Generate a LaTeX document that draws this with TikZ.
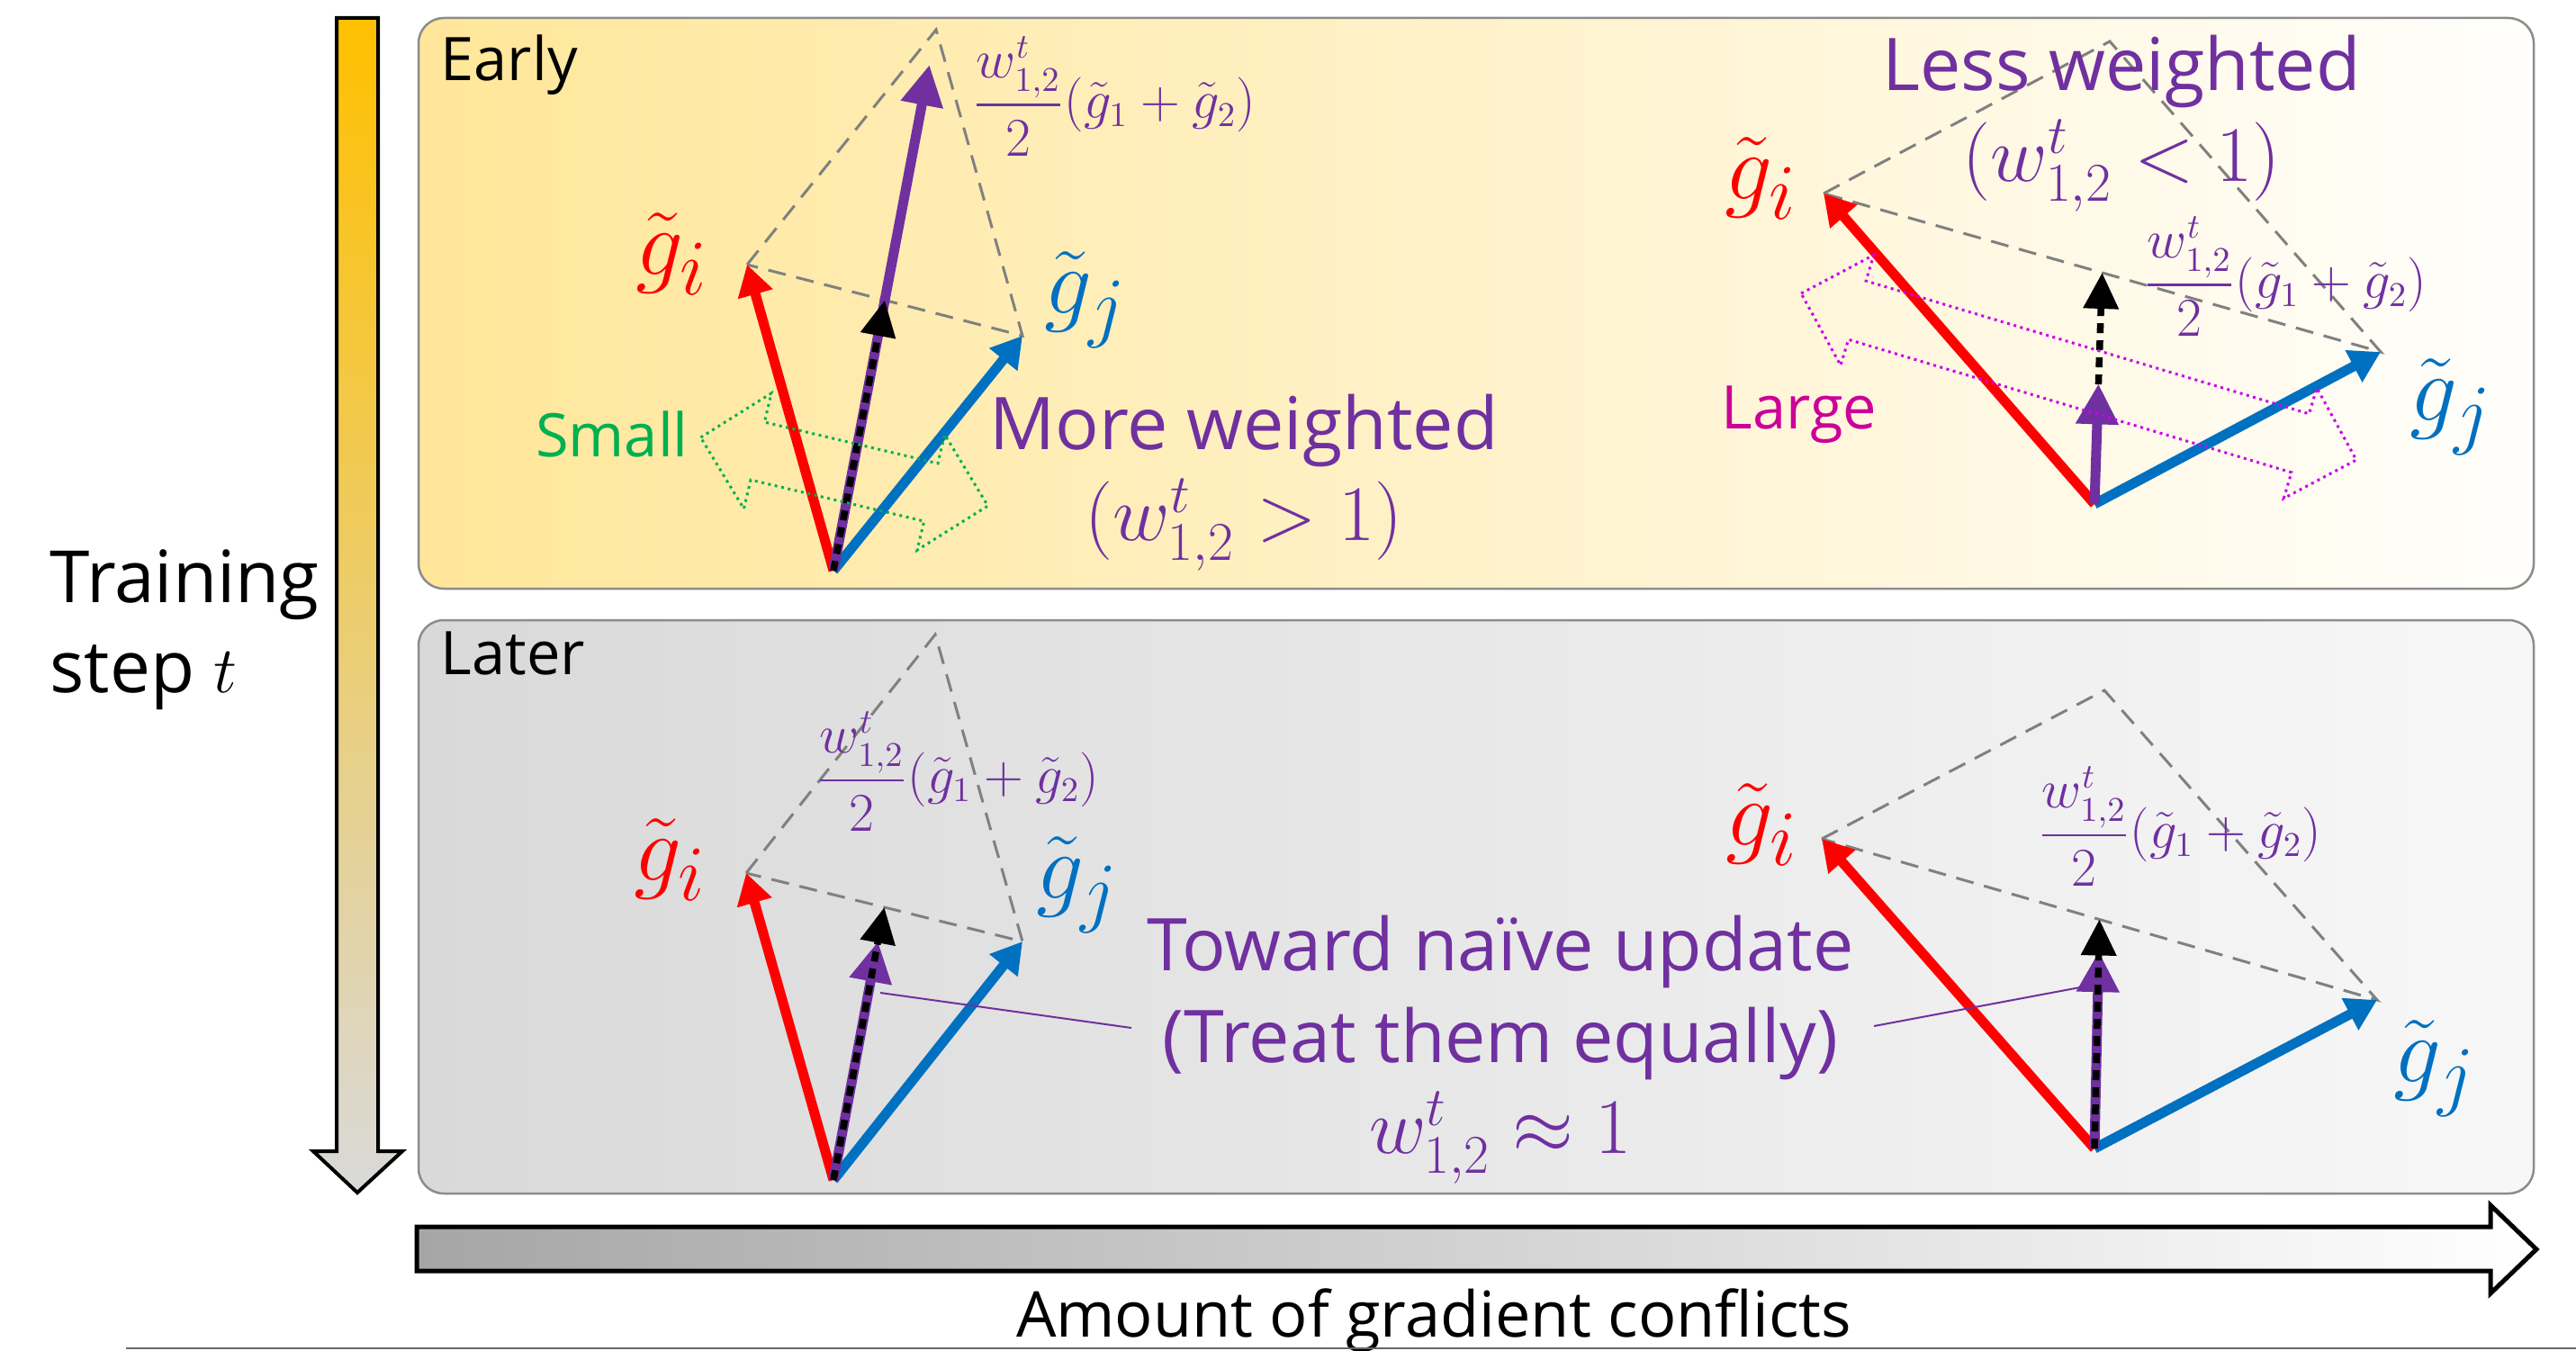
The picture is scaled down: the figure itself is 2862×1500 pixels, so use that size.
\documentclass[tikz,border=0pt]{standalone}
\usepackage{amsmath,amssymb}
\usepackage[no-math]{fontspec}
\setmainfont{Open Sans}
\usetikzlibrary{arrows.meta,calc}
\definecolor{cred}{HTML}{FF0000}
\definecolor{cblue}{HTML}{0070C0}
\definecolor{cpurple}{HTML}{7030A0}
\definecolor{cgreen}{HTML}{00B050}
\definecolor{cmagenta}{HTML}{CC0099}
\definecolor{cdots}{HTML}{CC00EE}
\definecolor{corange}{HTML}{FFC000}
\definecolor{cyellow}{HTML}{FFE699}
\definecolor{cgrey}{HTML}{D9D9D9}
\tikzset{
  panel/.style={draw=black!45, line width=0.25mm, rounded corners=2.8mm},
  guide/.style={draw=black!50, line width=0.3mm, dash pattern=on 2mm off 1.2mm},
  gvec/.style={line width=1.1mm, -{Triangle[length=3.4mm,width=3.8mm]}},
  wvec/.style={cpurple, line width=1.1mm, -{Triangle[length=4.5mm,width=4.5mm]}},
  avg/.style={black, line width=0.75mm, dash pattern=on 1.1mm off 0.8mm, -{Triangle[length=4mm,width=3.8mm]}},
  glbl/.style={font=\fontsize{24.88}{30}\selectfont, inner sep=0},
  frm/.style={font=\fontsize{16}{19}\selectfont, text=cpurple, inner sep=0, anchor=west},
  note/.style={font=\fontsize{23}{29}\selectfont, text=cpurple, align=center, inner sep=0},
  tag/.style={font=\fontsize{19}{23}\selectfont, inner sep=0},
  spread/.style={line width=0.3mm, dash pattern=on 0.3mm off 0.45mm},
  pointer/.style={cpurple, line width=0.2mm},
}

\begin{document}
\begin{tikzpicture}[x=0.1mm, y=-0.1mm]
  \useasboundingbox (0,0) rectangle (2862,1500);

  % axes
  \draw[line width=0.4mm, top color=corange, bottom color=cgrey]
    (374,20) -- (420,20) -- (420,1279) -- (447,1279) -- (397,1325) -- (348,1279) -- (374,1279) -- cycle;
  \draw[line width=0.5mm, left color=black!35, right color=white]
    (463,1363) -- (2767,1363) -- (2767,1339) -- (2818,1388) -- (2767,1437) -- (2767,1412) -- (463,1412) -- cycle;
  \node[font=\fontsize{22.8}{28.5}\selectfont, align=left, anchor=west, inner sep=0] (steplbl) at (55,700) {Training\\step $t$};
  \node[font=\fontsize{20}{24}\selectfont, anchor=base, inner sep=0] (conflbl) at (1593,1485) {Amount of gradient conflicts};
  \draw[black!60, line width=0.2mm] (140,1498) -- (2862,1498);

  % panels
  \draw[panel, left color=cyellow, right color=white!97!cyellow] (465,20) rectangle (2815,654);
  \draw[panel, left color=cgrey, right color=white!97!black] (465,689) rectangle (2815,1326);
  \node[tag, anchor=base west] (early) at (489,90) {Early};
  \node[tag, anchor=base west] (later) at (489,749) {Later};

  % early, few conflicts
  \coordinate (O1) at (926,634);
  \coordinate (A1) at (830,294);
  \coordinate (B1) at (1136,373);
  \coordinate (T1) at ($(A1)+(B1)-(O1)$);
  \coordinate (M1) at ($(A1)!0.5!(B1)$);
  \draw[guide] (A1) -- (T1) -- (B1) -- cycle;
  \draw[gvec, cred] (O1) -- (A1);
  \draw[gvec, cblue] (O1) -- (B1);
  \draw[wvec] (O1) -- ($(O1)!1.87!(M1)$);
  \draw[avg] (O1) -- (M1);
  \node[glbl, text=cred] (giA) at (747,282) {\scalebox{1.2}{$\tilde{g}_i$}};
  \node[glbl, text=cblue] (gjA) at (1206,333) {\scalebox{1.2}{$\tilde{g}_j$}};
  \node[frm] (fA) at (1080,107) {$\displaystyle\frac{w^t_{1,2}}{2}(\tilde{g}_1+\tilde{g}_2)$};
  \begin{scope}[shift={(938,524)}, rotate=-13.4]
    \draw[spread, cgreen] (-164,0) -- (-99,-66) -- (-99,-33) -- (99,-33) -- (99,-66) -- (164,0)
      -- (99,66) -- (99,33) -- (-99,33) -- (-99,66) -- cycle;
  \end{scope}
  \node[tag, text=cgreen, anchor=base] (small) at (680,507) {Small};
  \node[note] (more) at (1382,536) {More weighted\\$(w^t_{1,2}>1)$};

  % early, many conflicts
  \coordinate (O2) at (2327,560);
  \coordinate (A2) at (2026,215);
  \coordinate (B2) at (2645,391);
  \coordinate (T2) at ($(A2)+(B2)-(O2)$);
  \coordinate (M2) at ($(A2)!0.5!(B2)$);
  \draw[guide] (A2) -- (T2) -- (B2) -- cycle;
  \draw[gvec, cred] (O2) -- (A2);
  \draw[gvec, cblue] (O2) -- (B2);
  \draw[avg] (O2) -- (M2);
  \draw[wvec] (O2) -- ($(O2)!0.52!(M2)$);
  \node[glbl, text=cred] (giB) at (1957,198) {\scalebox{1.2}{$\tilde{g}_i$}};
  \node[glbl, text=cblue] (gjB) at (2723,452) {\scalebox{1.2}{$\tilde{g}_j$}};
  \node[frm] (fB) at (2381,307) {$\displaystyle\frac{w^t_{1,2}}{2}(\tilde{g}_1+\tilde{g}_2)$};
  \begin{scope}[shift={(2309.5,418.5)}, rotate=-16.7]
    \draw[spread, cdots] (-322,0) -- (-257,-64) -- (-257,-34) -- (257,-34) -- (257,-64) -- (322,0)
      -- (257,64) -- (257,34) -- (-257,34) -- (-257,64) -- cycle;
  \end{scope}
  \node[tag, text=cmagenta, anchor=base] (large) at (1999,476) {Large};
  \node[note] (less) at (2357,137) {Less weighted\\$(w^t_{1,2}<1)$};

  % later, few conflicts
  \coordinate (O3) at (926,1311);
  \coordinate (A3) at (829,970);
  \coordinate (B3) at (1136,1046);
  \coordinate (T3) at ($(A3)+(B3)-(O3)$);
  \coordinate (M3) at ($(A3)!0.5!(B3)$);
  \draw[guide] (A3) -- (T3) -- (B3) -- cycle;
  \draw[gvec, cred] (O3) -- (A3);
  \draw[gvec, cblue] (O3) -- (B3);
  \draw[wvec] (O3) -- ($(O3)!0.875!(M3)$);
  \draw[avg] (O3) -- (M3);
  \node[glbl, text=cred] (giC) at (745,955) {\scalebox{1.2}{$\tilde{g}_i$}};
  \node[glbl, text=cblue] (gjC) at (1197,983) {\scalebox{1.2}{$\tilde{g}_j$}};
  \node[frm] (fC) at (906,857) {$\displaystyle\frac{w^t_{1,2}}{2}(\tilde{g}_1+\tilde{g}_2)$};

  % later, many conflicts
  \coordinate (O4) at (2327,1276);
  \coordinate (A4) at (2024,932);
  \coordinate (B4) at (2641,1111);
  \coordinate (T4) at ($(A4)+(B4)-(O4)$);
  \coordinate (M4) at ($(A4)!0.5!(B4)$);
  \draw[guide] (A4) -- (T4) -- (B4) -- cycle;
  \draw[gvec, cred] (O4) -- (A4);
  \draw[gvec, cblue] (O4) -- (B4);
  \draw[wvec] (O4) -- ($(O4)!0.86!(M4)$);
  \draw[avg] (O4) -- (M4);
  \node[glbl, text=cred] (giD) at (1958,916) {\scalebox{1.2}{$\tilde{g}_i$}};
  \node[glbl, text=cblue] (gjD) at (2705,1187) {\scalebox{1.2}{$\tilde{g}_j$}};
  \node[frm] (fD) at (2264,918) {$\displaystyle\frac{w^t_{1,2}}{2}(\tilde{g}_1+\tilde{g}_2)$};

  \node[note] (naive) at (1667,1166) {Toward naïve update\\(Treat them equally)\\$w^t_{1,2}\approx 1$};
  \coordinate (pL1) at (978,1103);
  \coordinate (pL2) at (1257,1142);
  \coordinate (pR1) at (2311,1097);
  \coordinate (pR2) at (2082,1140);
  \draw[pointer] (pL1) -- (pL2);
  \draw[pointer] (pR1) -- (pR2);
\end{tikzpicture}
\end{document}
